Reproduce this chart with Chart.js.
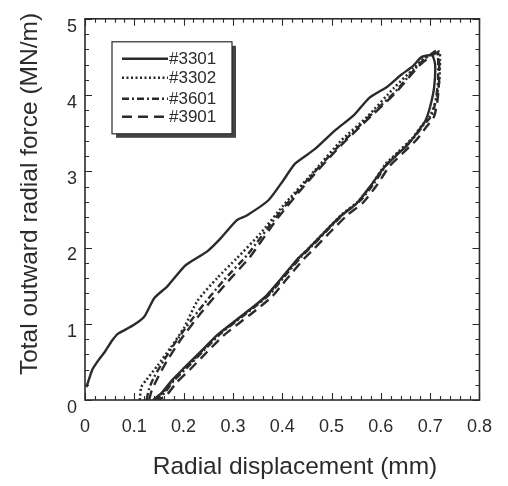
<!DOCTYPE html>
<html>
<head>
<meta charset="utf-8">
<script src="https://cdn.jsdelivr.net/npm/chart.js@4.4.1/dist/chart.umd.min.js"></script>
<style>
  html, body { margin: 0; padding: 0; background: #fff; }
  #wrap { width: 508px; height: 486px; }
</style>
</head>
<body>
<div id="wrap"><canvas id="grafico" width="508" height="486"></canvas></div>
<script>
// Series names
const amostras = ['#3301', '#3302', '#3601', '#3901'];

// #3301 (solid): loading then unloading
const x3301 = [0.003, 0.015, 0.027, 0.04, 0.055, 0.067, 0.087, 0.107, 0.121, 0.141, 0.167, 0.201, 0.221, 0.248, 0.275, 0.308, 0.328, 0.372, 0.402, 0.426, 0.466, 0.506, 0.546, 0.576, 0.613, 0.640, 0.665, 0.683, 0.704,
               0.710, 0.708, 0.700, 0.690, 0.675, 0.656, 0.630, 0.604, 0.578, 0.551, 0.518, 0.484, 0.451, 0.431, 0.395, 0.368, 0.335, 0.301, 0.268, 0.234, 0.201, 0.175, 0.155, 0.138];
const y3301 = [0.17, 0.40, 0.52, 0.63, 0.78, 0.87, 0.94, 1.02, 1.10, 1.34, 1.49, 1.75, 1.84, 1.95, 2.12, 2.36, 2.42, 2.62, 2.88, 3.10, 3.29, 3.53, 3.74, 3.96, 4.11, 4.26, 4.38, 4.50, 4.52,
               4.40, 4.10, 3.85, 3.66, 3.52, 3.36, 3.20, 3.03, 2.80, 2.58, 2.41, 2.19, 1.97, 1.85, 1.57, 1.37, 1.19, 1.02, 0.85, 0.63, 0.42, 0.25, 0.09, 0];

// #3302 (dotted)
const x3302 = [0.111, 0.114, 0.124, 0.147, 0.174, 0.201, 0.228, 0.268, 0.308, 0.355, 0.402, 0.466, 0.519, 0.573, 0.626, 0.667, 0.687, 0.718,
               0.720, 0.718, 0.712, 0.700, 0.683, 0.663, 0.636, 0.609, 0.582, 0.555, 0.522, 0.488, 0.455, 0.435, 0.398, 0.371, 0.338, 0.304, 0.271, 0.237, 0.204, 0.177, 0.157, 0.140];
const y3302 = [0, 0.17, 0.26, 0.45, 0.69, 0.95, 1.30, 1.60, 1.86, 2.18, 2.55, 3.01, 3.40, 3.72, 4.09, 4.35, 4.48, 4.57,
               4.45, 4.15, 3.94, 3.73, 3.60, 3.43, 3.26, 3.09, 2.83, 2.61, 2.44, 2.22, 2.00, 1.87, 1.59, 1.38, 1.20, 1.03, 0.86, 0.64, 0.42, 0.25, 0.09, 0];

// #3601 (dash-dot)
const x3601 = [0.125, 0.130, 0.140, 0.160, 0.190, 0.230, 0.280, 0.330, 0.390, 0.450, 0.510, 0.570, 0.630, 0.680, 0.712,
               0.716, 0.716, 0.712, 0.704, 0.687, 0.667, 0.640, 0.613, 0.586, 0.559, 0.526, 0.492, 0.459, 0.439, 0.402, 0.375, 0.342, 0.308, 0.275, 0.241, 0.208, 0.181, 0.161, 0.144];
const y3601 = [0, 0.15, 0.30, 0.52, 0.82, 1.17, 1.56, 1.91, 2.42, 2.88, 3.30, 3.68, 4.05, 4.42, 4.58,
               4.50, 4.20, 3.96, 3.74, 3.61, 3.44, 3.27, 3.10, 2.84, 2.62, 2.45, 2.23, 2.01, 1.88, 1.60, 1.39, 1.21, 1.04, 0.87, 0.65, 0.43, 0.26, 0.09, 0];

// #3901 (dashed)
const x3901 = [0.130, 0.135, 0.145, 0.165, 0.195, 0.235, 0.285, 0.335, 0.390, 0.450, 0.510, 0.570, 0.630, 0.680, 0.715,
               0.718, 0.718, 0.715, 0.708, 0.692, 0.672, 0.645, 0.618, 0.591, 0.564, 0.531, 0.497, 0.464, 0.444, 0.407, 0.380, 0.347, 0.313, 0.280, 0.246, 0.213, 0.186, 0.166, 0.149];
const y3901 = [0, 0.12, 0.26, 0.50, 0.80, 1.14, 1.52, 1.88, 2.38, 2.85, 3.28, 3.66, 4.03, 4.40, 4.56,
               4.48, 4.18, 3.94, 3.72, 3.58, 3.41, 3.24, 3.07, 2.81, 2.59, 2.42, 2.20, 1.98, 1.85, 1.57, 1.36, 1.18, 1.01, 0.84, 0.62, 0.40, 0.23, 0.07, 0];

// Tick labels and axis titles
const ticksX = [0, 0.1, 0.2, 0.3, 0.4, 0.5, 0.6, 0.7, 0.8];
const ticksY = [0, 1, 2, 3, 4, 5];
const tituloX = 'Radial displacement (mm)';
const tituloY = 'Total outward radial force (MN/m)';

const COR = '#2b2b2b';
const FONTE = "'Liberation Sans', Arial, Helvetica, sans-serif";

function pontos(xs, ys) {
    return xs.map((v, i) => ({ x: v, y: ys[i] }));
}

// Frame with inward ticks on all four sides, plus the axis titles
const molduraPlugin = {
    id: 'moldura',
    afterDraw(chart) {
        const { ctx, chartArea: a, scales } = chart;
        const sx = scales.x, sy = scales.y;
        ctx.save();
        ctx.strokeStyle = COR;
        ctx.lineWidth = 1.6;
        ctx.strokeRect(a.left, a.top, a.right - a.left, a.bottom - a.top);
        ctx.lineWidth = 1.1;
        ctx.beginPath();
        for (let i = 0; i <= 40; i++) {
            const px = Math.round(sx.getPixelForValue(i * 0.02)) + 0.5;
            const len = i % 5 === 0 ? 7 : 4;
            ctx.moveTo(px, a.bottom); ctx.lineTo(px, a.bottom - len);
            ctx.moveTo(px, a.top); ctx.lineTo(px, a.top + len);
        }
        for (let i = 0; i <= 25; i++) {
            const py = Math.round(sy.getPixelForValue(i * 0.2)) + 0.5;
            const len = i % 5 === 0 ? 7 : 4;
            ctx.moveTo(a.left, py); ctx.lineTo(a.left + len, py);
            ctx.moveTo(a.right, py); ctx.lineTo(a.right - len, py);
        }
        ctx.stroke();

        ctx.fillStyle = COR;
        ctx.font = '24.5px ' + FONTE;
        ctx.textAlign = 'center';
        ctx.textBaseline = 'middle';
        ctx.fillText(tituloX, 295, 467);
        ctx.translate(30, 194);
        ctx.rotate(-Math.PI / 2);
        ctx.fillText(tituloY, 0, 0);
        ctx.restore();
    }
};

// Legend box with drop shadow inside the plot
const legendaPlugin = {
    id: 'legenda',
    afterDraw(chart) {
        const { ctx, chartArea: a } = chart;
        const bx = a.left + 27, by = a.top + 23, bw = 120, bh = 92;
        ctx.save();
        ctx.fillStyle = '#444';
        ctx.fillRect(bx + 4, by + 4, bw, bh);
        ctx.fillStyle = '#fff';
        ctx.fillRect(bx, by, bw, bh);
        ctx.strokeStyle = COR;
        ctx.lineWidth = 1.2;
        ctx.strokeRect(bx, by, bw, bh);
        ctx.font = '17px ' + FONTE;
        ctx.textBaseline = 'middle';
        ctx.fillStyle = COR;
        const linhas = [17, 36, 57, 75];
        chart.data.datasets.forEach((ds, i) => {
            const yy = by + linhas[i];
            ctx.strokeStyle = COR;
            ctx.lineWidth = ds.borderWidth;
            ctx.setLineDash(ds.borderDash || []);
            ctx.beginPath();
            ctx.moveTo(bx + 10, yy);
            ctx.lineTo(bx + 56, yy);
            ctx.stroke();
            ctx.setLineDash([]);
            ctx.fillText(ds.label, bx + 57, yy + 1);
        });
        ctx.restore();
    }
};

const estilos = [
    { borderDash: [], borderWidth: 2.4 },
    { borderDash: [2, 2.5], borderWidth: 2.5 },
    { borderDash: [7, 3, 2, 3], borderWidth: 2.4 },
    { borderDash: [10, 6], borderWidth: 2.4 }
];
const series = [[x3301, y3301], [x3302, y3302], [x3601, y3601], [x3901, y3901]];

const ctx = document.getElementById('grafico').getContext('2d');
const chart = new Chart(ctx, {
    type: 'scatter',
    data: {
        datasets: series.map((s, i) => ({
            label: amostras[i],
            data: pontos(s[0], s[1]),
            showLine: true,
            borderColor: COR,
            borderWidth: estilos[i].borderWidth,
            borderDash: estilos[i].borderDash,
            pointRadius: 0,
            tension: 0.2
        }))
    },
    options: {
        responsive: false,
        animation: false,
        layout: { padding: { top: 15, right: 25, left: 0, bottom: 0 } },
        plugins: { legend: { display: false }, tooltip: { enabled: false } },
        scales: {
            x: {
                type: 'linear',
                min: 0, max: 0.8,
                afterBuildTicks: (s) => { s.ticks = ticksX.map(v => ({ value: v })); },
                afterFit: (s) => { s.height = 86; },
                grid: { display: false, drawTicks: false },
                border: { display: false },
                ticks: {
                    color: COR, padding: 16,
                    font: { family: FONTE, size: 18 },
                    callback: (v) => String(v)
                }
            },
            y: {
                min: 0, max: 5,
                afterBuildTicks: (s) => { s.ticks = ticksY.map(v => ({ value: v })); },
                afterFit: (s) => { s.width = 85; },
                grid: { display: false, drawTicks: false },
                border: { display: false },
                ticks: {
                    color: COR, padding: 8, labelOffset: 8,
                    font: { family: FONTE, size: 18 }
                }
            }
        }
    },
    plugins: [molduraPlugin, legendaPlugin]
});
</script>
</body>
</html>
